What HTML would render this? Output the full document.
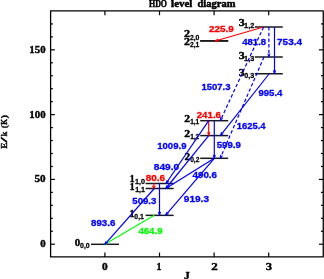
<!DOCTYPE html>
<html><head><meta charset="utf-8"><title>HDO level diagram</title>
<style>html,body{margin:0;padding:0;background:#fff;overflow:hidden}svg{display:block;will-change:transform;opacity:0.999}</style>
</head><body>
<svg width="324" height="279" viewBox="0 0 324 279" stroke-linejoin="round">
<rect width="324" height="279" fill="#fff"/>
<rect x="50.6" y="10.9" width="272.65" height="245.99999999999997" fill="none" stroke="#000" stroke-width="1.3"/>
<line x1="50.60" y1="244.20" x2="54.90" y2="244.20" stroke="#000" stroke-width="1.2"/>
<line x1="323.25" y1="244.20" x2="318.95" y2="244.20" stroke="#000" stroke-width="1.2"/>
<line x1="50.60" y1="231.24" x2="52.90" y2="231.24" stroke="#000" stroke-width="1.2"/>
<line x1="323.25" y1="231.24" x2="320.95" y2="231.24" stroke="#000" stroke-width="1.2"/>
<line x1="50.60" y1="218.29" x2="52.90" y2="218.29" stroke="#000" stroke-width="1.2"/>
<line x1="323.25" y1="218.29" x2="320.95" y2="218.29" stroke="#000" stroke-width="1.2"/>
<line x1="50.60" y1="205.33" x2="52.90" y2="205.33" stroke="#000" stroke-width="1.2"/>
<line x1="323.25" y1="205.33" x2="320.95" y2="205.33" stroke="#000" stroke-width="1.2"/>
<line x1="50.60" y1="192.37" x2="52.90" y2="192.37" stroke="#000" stroke-width="1.2"/>
<line x1="323.25" y1="192.37" x2="320.95" y2="192.37" stroke="#000" stroke-width="1.2"/>
<line x1="50.60" y1="179.41" x2="54.90" y2="179.41" stroke="#000" stroke-width="1.2"/>
<line x1="323.25" y1="179.41" x2="318.95" y2="179.41" stroke="#000" stroke-width="1.2"/>
<line x1="50.60" y1="166.46" x2="52.90" y2="166.46" stroke="#000" stroke-width="1.2"/>
<line x1="323.25" y1="166.46" x2="320.95" y2="166.46" stroke="#000" stroke-width="1.2"/>
<line x1="50.60" y1="153.50" x2="52.90" y2="153.50" stroke="#000" stroke-width="1.2"/>
<line x1="323.25" y1="153.50" x2="320.95" y2="153.50" stroke="#000" stroke-width="1.2"/>
<line x1="50.60" y1="140.54" x2="52.90" y2="140.54" stroke="#000" stroke-width="1.2"/>
<line x1="323.25" y1="140.54" x2="320.95" y2="140.54" stroke="#000" stroke-width="1.2"/>
<line x1="50.60" y1="127.59" x2="52.90" y2="127.59" stroke="#000" stroke-width="1.2"/>
<line x1="323.25" y1="127.59" x2="320.95" y2="127.59" stroke="#000" stroke-width="1.2"/>
<line x1="50.60" y1="114.63" x2="54.90" y2="114.63" stroke="#000" stroke-width="1.2"/>
<line x1="323.25" y1="114.63" x2="318.95" y2="114.63" stroke="#000" stroke-width="1.2"/>
<line x1="50.60" y1="101.67" x2="52.90" y2="101.67" stroke="#000" stroke-width="1.2"/>
<line x1="323.25" y1="101.67" x2="320.95" y2="101.67" stroke="#000" stroke-width="1.2"/>
<line x1="50.60" y1="88.72" x2="52.90" y2="88.72" stroke="#000" stroke-width="1.2"/>
<line x1="323.25" y1="88.72" x2="320.95" y2="88.72" stroke="#000" stroke-width="1.2"/>
<line x1="50.60" y1="75.76" x2="52.90" y2="75.76" stroke="#000" stroke-width="1.2"/>
<line x1="323.25" y1="75.76" x2="320.95" y2="75.76" stroke="#000" stroke-width="1.2"/>
<line x1="50.60" y1="62.80" x2="52.90" y2="62.80" stroke="#000" stroke-width="1.2"/>
<line x1="323.25" y1="62.80" x2="320.95" y2="62.80" stroke="#000" stroke-width="1.2"/>
<line x1="50.60" y1="49.84" x2="54.90" y2="49.84" stroke="#000" stroke-width="1.2"/>
<line x1="323.25" y1="49.84" x2="318.95" y2="49.84" stroke="#000" stroke-width="1.2"/>
<line x1="50.60" y1="36.89" x2="52.90" y2="36.89" stroke="#000" stroke-width="1.2"/>
<line x1="323.25" y1="36.89" x2="320.95" y2="36.89" stroke="#000" stroke-width="1.2"/>
<line x1="50.60" y1="23.93" x2="52.90" y2="23.93" stroke="#000" stroke-width="1.2"/>
<line x1="323.25" y1="23.93" x2="320.95" y2="23.93" stroke="#000" stroke-width="1.2"/>
<line x1="104.90" y1="10.90" x2="104.90" y2="15.20" stroke="#000" stroke-width="1.2"/>
<line x1="104.90" y1="256.90" x2="104.90" y2="252.60" stroke="#000" stroke-width="1.2"/>
<line x1="159.50" y1="10.90" x2="159.50" y2="15.20" stroke="#000" stroke-width="1.2"/>
<line x1="159.50" y1="256.90" x2="159.50" y2="252.60" stroke="#000" stroke-width="1.2"/>
<line x1="214.10" y1="10.90" x2="214.10" y2="15.20" stroke="#000" stroke-width="1.2"/>
<line x1="214.10" y1="256.90" x2="214.10" y2="252.60" stroke="#000" stroke-width="1.2"/>
<line x1="268.70" y1="10.90" x2="268.70" y2="15.20" stroke="#000" stroke-width="1.2"/>
<line x1="268.70" y1="256.90" x2="268.70" y2="252.60" stroke="#000" stroke-width="1.2"/>
<line x1="91.00" y1="244.30" x2="119.00" y2="244.30" stroke="#1a1a1a" stroke-width="1.5"/>
<line x1="145.60" y1="215.35" x2="173.60" y2="215.35" stroke="#1a1a1a" stroke-width="1.5"/>
<line x1="145.60" y1="188.50" x2="173.60" y2="188.50" stroke="#1a1a1a" stroke-width="1.5"/>
<line x1="145.60" y1="183.50" x2="173.60" y2="183.50" stroke="#1a1a1a" stroke-width="1.5"/>
<line x1="200.20" y1="158.30" x2="228.20" y2="158.30" stroke="#1a1a1a" stroke-width="1.5"/>
<line x1="200.20" y1="135.60" x2="228.20" y2="135.60" stroke="#1a1a1a" stroke-width="1.5"/>
<line x1="200.20" y1="120.70" x2="228.20" y2="120.70" stroke="#1a1a1a" stroke-width="1.5"/>
<line x1="200.20" y1="41.00" x2="228.20" y2="41.00" stroke="#1a1a1a" stroke-width="1.5"/>
<line x1="200.20" y1="40.80" x2="228.20" y2="40.80" stroke="#1a1a1a" stroke-width="1.5"/>
<line x1="254.80" y1="73.75" x2="282.80" y2="73.75" stroke="#1a1a1a" stroke-width="1.5"/>
<line x1="254.80" y1="57.00" x2="282.80" y2="57.00" stroke="#1a1a1a" stroke-width="1.5"/>
<line x1="254.80" y1="27.00" x2="282.80" y2="27.00" stroke="#1a1a1a" stroke-width="1.5"/>
<text transform="translate(29.35,52.70) scale(1.0638,1)" font-family="Liberation Serif" font-weight="bold" font-size="10.2" fill="#000" stroke="#000" stroke-width="0.38">150</text>
<text transform="translate(29.35,117.50) scale(1.0638,1)" font-family="Liberation Serif" font-weight="bold" font-size="10.2" fill="#000" stroke="#000" stroke-width="0.38">100</text>
<text transform="translate(34.46,182.20) scale(1.0957,1)" font-family="Liberation Serif" font-weight="bold" font-size="10.2" fill="#000" stroke="#000" stroke-width="0.38">50</text>
<text transform="translate(40.17,247.00) scale(1.0698,1)" font-family="Liberation Serif" font-weight="bold" font-size="10.2" fill="#000" stroke="#000" stroke-width="0.38">0</text>
<text transform="translate(101.95,269.70) scale(1.1163,1)" font-family="Liberation Serif" font-weight="bold" font-size="10.2" fill="#000" stroke="#000" stroke-width="0.38">0</text>
<text transform="translate(156.62,269.70) scale(0.9737,1)" font-family="Liberation Serif" font-weight="bold" font-size="10.2" fill="#000" stroke="#000" stroke-width="0.38">1</text>
<text transform="translate(211.19,269.70) scale(1.2791,1)" font-family="Liberation Serif" font-weight="bold" font-size="10.2" fill="#000" stroke="#000" stroke-width="0.38">2</text>
<text transform="translate(265.71,269.70) scale(1.2326,1)" font-family="Liberation Serif" font-weight="bold" font-size="10.2" fill="#000" stroke="#000" stroke-width="0.38">3</text>
<text transform="translate(184.03,278.60) scale(1.1395,1)" font-family="Liberation Serif" font-weight="bold" font-size="10.2" fill="#000" stroke="#000" stroke-width="0.38">J</text>
<text transform="translate(148.95,6.60) scale(0.7364,1)" font-family="Liberation Serif" font-weight="bold" font-size="10.8" fill="#000" stroke="#000" stroke-width="0.5">HDO</text>
<text transform="translate(171.10,6.60) scale(1.0146,1)" font-family="Liberation Serif" font-weight="bold" font-size="10.8" fill="#000" stroke="#000" stroke-width="0.5">level</text>
<text transform="translate(197.41,6.60) scale(0.9766,1)" font-family="Liberation Serif" font-weight="bold" font-size="10.8" fill="#000" stroke="#000" stroke-width="0.5">diagram</text>
<text transform="translate(74.75,245.70) scale(1.1220,1)" font-family="Liberation Serif" font-weight="bold" font-size="9.7" fill="#000" stroke="#000" stroke-width="0.38">0</text>
<text transform="translate(80.02,247.90) scale(0.9286,1)" font-family="Liberation Sans" font-weight="bold" font-size="7.5" fill="#000" stroke="#000" stroke-width="0.28">0,0</text>
<text transform="translate(129.48,217.00) scale(1.0286,1)" font-family="Liberation Serif" font-weight="bold" font-size="9.7" fill="#000" stroke="#000" stroke-width="0.38">1</text>
<text transform="translate(134.32,219.20) scale(0.9192,1)" font-family="Liberation Sans" font-weight="bold" font-size="7.5" fill="#000" stroke="#000" stroke-width="0.28">0,1</text>
<text transform="translate(129.70,190.10) scale(1.0000,1)" font-family="Liberation Serif" font-weight="bold" font-size="9.7" fill="#000" stroke="#000" stroke-width="0.38">1</text>
<text transform="translate(135.13,192.40) scale(0.9485,1)" font-family="Liberation Sans" font-weight="bold" font-size="7.5" fill="#000" stroke="#000" stroke-width="0.28">1,1</text>
<text transform="translate(129.70,182.10) scale(1.0000,1)" font-family="Liberation Serif" font-weight="bold" font-size="9.7" fill="#000" stroke="#000" stroke-width="0.38">1</text>
<text transform="translate(135.12,184.30) scale(0.9583,1)" font-family="Liberation Sans" font-weight="bold" font-size="7.5" fill="#000" stroke="#000" stroke-width="0.28">1,0</text>
<text transform="translate(184.53,159.70) scale(1.1750,1)" font-family="Liberation Serif" font-weight="bold" font-size="9.7" fill="#000" stroke="#000" stroke-width="0.38">2</text>
<text transform="translate(190.13,161.80) scale(0.8878,1)" font-family="Liberation Sans" font-weight="bold" font-size="7.5" fill="#000" stroke="#000" stroke-width="0.28">0,2</text>
<text transform="translate(184.32,136.80) scale(1.2000,1)" font-family="Liberation Serif" font-weight="bold" font-size="9.7" fill="#000" stroke="#000" stroke-width="0.38">2</text>
<text transform="translate(190.16,138.90) scale(0.8750,1)" font-family="Liberation Sans" font-weight="bold" font-size="7.5" fill="#000" stroke="#000" stroke-width="0.28">1,2</text>
<text transform="translate(184.32,122.00) scale(1.2000,1)" font-family="Liberation Serif" font-weight="bold" font-size="9.7" fill="#000" stroke="#000" stroke-width="0.38">2</text>
<text transform="translate(190.17,124.00) scale(0.8660,1)" font-family="Liberation Sans" font-weight="bold" font-size="7.5" fill="#000" stroke="#000" stroke-width="0.28">1,1</text>
<text transform="translate(184.10,44.70) scale(1.2500,1)" font-family="Liberation Serif" font-weight="bold" font-size="9.7" fill="#000" stroke="#000" stroke-width="0.38">2</text>
<text transform="translate(189.93,47.10) scale(0.8990,1)" font-family="Liberation Sans" font-weight="bold" font-size="7.5" fill="#000" stroke="#000" stroke-width="0.28">2,1</text>
<text transform="translate(184.10,37.20) scale(1.2500,1)" font-family="Liberation Serif" font-weight="bold" font-size="9.7" fill="#000" stroke="#000" stroke-width="0.38">2</text>
<text transform="translate(189.93,39.70) scale(0.9082,1)" font-family="Liberation Sans" font-weight="bold" font-size="7.5" fill="#000" stroke="#000" stroke-width="0.28">2,0</text>
<text transform="translate(238.71,75.60) scale(1.2195,1)" font-family="Liberation Serif" font-weight="bold" font-size="9.7" fill="#000" stroke="#000" stroke-width="0.38">3</text>
<text transform="translate(244.31,77.60) scale(0.9592,1)" font-family="Liberation Sans" font-weight="bold" font-size="7.5" fill="#000" stroke="#000" stroke-width="0.28">0,3</text>
<text transform="translate(238.71,58.90) scale(1.2195,1)" font-family="Liberation Serif" font-weight="bold" font-size="9.7" fill="#000" stroke="#000" stroke-width="0.38">3</text>
<text transform="translate(244.11,60.70) scale(0.9792,1)" font-family="Liberation Sans" font-weight="bold" font-size="7.5" fill="#000" stroke="#000" stroke-width="0.28">1,3</text>
<text transform="translate(238.71,25.60) scale(1.2195,1)" font-family="Liberation Serif" font-weight="bold" font-size="9.7" fill="#000" stroke="#000" stroke-width="0.38">3</text>
<text transform="translate(244.11,27.80) scale(0.9792,1)" font-family="Liberation Sans" font-weight="bold" font-size="7.5" fill="#000" stroke="#000" stroke-width="0.28">1,2</text>
<line x1="263.60" y1="27.00" x2="215.20" y2="41.00" stroke="#ff0000" stroke-width="1.2"/>
<line x1="215.20" y1="41.00" x2="218.21" y2="39.03" stroke="#ff0000" stroke-width="1.02"/>
<line x1="215.20" y1="41.00" x2="218.80" y2="41.05" stroke="#ff0000" stroke-width="1.02"/>
<line x1="268.90" y1="27.00" x2="268.90" y2="57.00" stroke="#0000ff" stroke-width="1.2" stroke-dasharray="3.5 2.2"/>
<line x1="268.90" y1="57.00" x2="267.85" y2="53.56" stroke="#0000ff" stroke-width="1.02"/>
<line x1="268.90" y1="57.00" x2="269.95" y2="53.56" stroke="#0000ff" stroke-width="1.02"/>
<line x1="274.50" y1="27.00" x2="274.50" y2="73.75" stroke="#0000ff" stroke-width="1.2"/>
<line x1="274.50" y1="73.75" x2="273.45" y2="70.31" stroke="#0000ff" stroke-width="1.02"/>
<line x1="274.50" y1="73.75" x2="275.55" y2="70.31" stroke="#0000ff" stroke-width="1.02"/>
<line x1="263.60" y1="27.00" x2="220.30" y2="120.70" stroke="#0000ff" stroke-width="1.2" stroke-dasharray="3.5 2.2"/>
<line x1="220.30" y1="120.70" x2="220.79" y2="117.13" stroke="#0000ff" stroke-width="1.02"/>
<line x1="220.30" y1="120.70" x2="222.70" y2="118.02" stroke="#0000ff" stroke-width="1.02"/>
<line x1="264.00" y1="57.00" x2="220.20" y2="158.30" stroke="#0000ff" stroke-width="1.2" stroke-dasharray="3.5 2.2"/>
<line x1="220.20" y1="158.30" x2="220.60" y2="154.72" stroke="#0000ff" stroke-width="1.02"/>
<line x1="220.20" y1="158.30" x2="222.53" y2="155.56" stroke="#0000ff" stroke-width="1.02"/>
<line x1="269.20" y1="73.75" x2="220.30" y2="135.60" stroke="#0000ff" stroke-width="1.2"/>
<line x1="220.30" y1="135.60" x2="221.61" y2="132.25" stroke="#0000ff" stroke-width="1.02"/>
<line x1="220.30" y1="135.60" x2="223.26" y2="133.55" stroke="#0000ff" stroke-width="1.02"/>
<line x1="208.70" y1="120.70" x2="208.70" y2="135.60" stroke="#ff0000" stroke-width="1.2"/>
<line x1="208.70" y1="135.60" x2="207.65" y2="132.16" stroke="#ff0000" stroke-width="1.02"/>
<line x1="208.70" y1="135.60" x2="209.75" y2="132.16" stroke="#ff0000" stroke-width="1.02"/>
<line x1="214.30" y1="120.70" x2="214.30" y2="158.30" stroke="#0000ff" stroke-width="1.2"/>
<line x1="214.30" y1="158.30" x2="213.25" y2="154.86" stroke="#0000ff" stroke-width="1.02"/>
<line x1="214.30" y1="158.30" x2="215.35" y2="154.86" stroke="#0000ff" stroke-width="1.02"/>
<line x1="208.70" y1="120.70" x2="166.00" y2="183.50" stroke="#0000ff" stroke-width="1.2"/>
<line x1="166.00" y1="183.50" x2="167.07" y2="180.06" stroke="#0000ff" stroke-width="1.02"/>
<line x1="166.00" y1="183.50" x2="168.81" y2="181.24" stroke="#0000ff" stroke-width="1.02"/>
<line x1="208.70" y1="135.60" x2="165.80" y2="188.50" stroke="#0000ff" stroke-width="1.2"/>
<line x1="165.80" y1="188.50" x2="167.15" y2="185.16" stroke="#0000ff" stroke-width="1.02"/>
<line x1="165.80" y1="188.50" x2="168.79" y2="186.49" stroke="#0000ff" stroke-width="1.02"/>
<line x1="214.30" y1="158.30" x2="165.80" y2="188.50" stroke="#0000ff" stroke-width="1.2"/>
<line x1="165.80" y1="188.50" x2="168.17" y2="185.79" stroke="#0000ff" stroke-width="1.02"/>
<line x1="165.80" y1="188.50" x2="169.28" y2="187.57" stroke="#0000ff" stroke-width="1.02"/>
<line x1="214.30" y1="158.30" x2="165.50" y2="215.35" stroke="#0000ff" stroke-width="1.2"/>
<line x1="165.50" y1="215.35" x2="166.94" y2="212.05" stroke="#0000ff" stroke-width="1.02"/>
<line x1="165.50" y1="215.35" x2="168.54" y2="213.42" stroke="#0000ff" stroke-width="1.02"/>
<line x1="153.90" y1="183.50" x2="153.90" y2="188.50" stroke="#ff0000" stroke-width="1.2"/>
<line x1="153.90" y1="188.50" x2="152.45" y2="185.65" stroke="#ff0000" stroke-width="1.02"/>
<line x1="153.90" y1="188.50" x2="155.35" y2="185.65" stroke="#ff0000" stroke-width="1.02"/>
<line x1="159.50" y1="183.50" x2="159.50" y2="215.35" stroke="#0000ff" stroke-width="1.2"/>
<line x1="159.50" y1="215.35" x2="158.45" y2="211.91" stroke="#0000ff" stroke-width="1.02"/>
<line x1="159.50" y1="215.35" x2="160.55" y2="211.91" stroke="#0000ff" stroke-width="1.02"/>
<line x1="154.40" y1="215.35" x2="104.80" y2="244.30" stroke="#00ff00" stroke-width="1.2"/>
<line x1="104.80" y1="244.30" x2="106.70" y2="242.24" stroke="#00ff00" stroke-width="1.02"/>
<line x1="104.80" y1="244.30" x2="107.53" y2="243.66" stroke="#00ff00" stroke-width="1.02"/>
<line x1="154.30" y1="188.50" x2="104.80" y2="244.30" stroke="#0000ff" stroke-width="1.2"/>
<line x1="104.80" y1="244.30" x2="106.17" y2="241.30" stroke="#0000ff" stroke-width="1.02"/>
<line x1="104.80" y1="244.30" x2="107.62" y2="242.58" stroke="#0000ff" stroke-width="1.02"/>
<text transform="translate(208.99,31.60) scale(1.0256,1)" font-family="Liberation Sans" font-weight="bold" font-size="9.6" fill="#ff0000" stroke="#ff0000" stroke-width="0.3">225.9</text>
<text transform="translate(242.20,44.70) scale(1.0000,1)" font-family="Liberation Sans" font-weight="bold" font-size="9.6" fill="#0000ff" stroke="#0000ff" stroke-width="0.3">481.8</text>
<text transform="translate(277.08,44.80) scale(1.0381,1)" font-family="Liberation Sans" font-weight="bold" font-size="9.6" fill="#0000ff" stroke="#0000ff" stroke-width="0.3">753.4</text>
<text transform="translate(201.40,90.00) scale(0.9930,1)" font-family="Liberation Sans" font-weight="bold" font-size="9.6" fill="#0000ff" stroke="#0000ff" stroke-width="0.3">1507.3</text>
<text transform="translate(258.40,95.70) scale(1.0000,1)" font-family="Liberation Sans" font-weight="bold" font-size="9.6" fill="#0000ff" stroke="#0000ff" stroke-width="0.3">995.4</text>
<text transform="translate(196.70,118.00) scale(1.0128,1)" font-family="Liberation Sans" font-weight="bold" font-size="9.6" fill="#ff0000" stroke="#ff0000" stroke-width="0.3">241.6</text>
<text transform="translate(236.81,129.30) scale(0.9826,1)" font-family="Liberation Sans" font-weight="bold" font-size="9.6" fill="#0000ff" stroke="#0000ff" stroke-width="0.3">1625.4</text>
<text transform="translate(157.20,148.90) scale(0.9965,1)" font-family="Liberation Sans" font-weight="bold" font-size="9.6" fill="#0000ff" stroke="#0000ff" stroke-width="0.3">1009.9</text>
<text transform="translate(216.70,148.40) scale(1.0085,1)" font-family="Liberation Sans" font-weight="bold" font-size="9.6" fill="#0000ff" stroke="#0000ff" stroke-width="0.3">599.9</text>
<text transform="translate(153.78,170.20) scale(1.0558,1)" font-family="Liberation Sans" font-weight="bold" font-size="9.6" fill="#0000ff" stroke="#0000ff" stroke-width="0.3">849.0</text>
<text transform="translate(145.69,180.60) scale(1.0389,1)" font-family="Liberation Sans" font-weight="bold" font-size="9.6" fill="#ff0000" stroke="#ff0000" stroke-width="0.3">80.6</text>
<text transform="translate(192.50,178.10) scale(1.0212,1)" font-family="Liberation Sans" font-weight="bold" font-size="9.6" fill="#0000ff" stroke="#0000ff" stroke-width="0.3">490.6</text>
<text transform="translate(132.30,203.90) scale(1.0043,1)" font-family="Liberation Sans" font-weight="bold" font-size="9.6" fill="#0000ff" stroke="#0000ff" stroke-width="0.3">509.3</text>
<text transform="translate(183.78,201.70) scale(1.0513,1)" font-family="Liberation Sans" font-weight="bold" font-size="9.6" fill="#0000ff" stroke="#0000ff" stroke-width="0.3">919.3</text>
<text transform="translate(91.00,225.70) scale(1.0128,1)" font-family="Liberation Sans" font-weight="bold" font-size="9.6" fill="#0000ff" stroke="#0000ff" stroke-width="0.3">893.6</text>
<text transform="translate(138.40,233.90) scale(1.0042,1)" font-family="Liberation Sans" font-weight="bold" font-size="9.6" fill="#00ff00" stroke="#00ff00" stroke-width="0.3">464.9</text>
<text transform="translate(7.30,148.80) rotate(-90) scale(0.9818,1)" font-family="Liberation Serif" font-weight="bold" font-size="9.2" fill="#000" stroke="#000" stroke-width="0.4">E</text>
<text transform="translate(7.30,142.39) rotate(-90) scale(2.0741,1)" font-family="Liberation Serif" font-weight="bold" font-size="9.2" fill="#000" stroke="#000" stroke-width="0.4">/</text>
<text transform="translate(7.30,136.59) rotate(-90) scale(0.9592,1)" font-family="Liberation Serif" font-weight="bold" font-size="9.2" fill="#000" stroke="#000" stroke-width="0.4">k</text>
<text transform="translate(7.30,128.20) rotate(-90) scale(1.0000,1)" font-family="Liberation Serif" font-weight="bold" font-size="9.2" fill="#000" stroke="#000" stroke-width="0.4">(</text>
<text transform="translate(7.30,124.76) rotate(-90) scale(0.7971,1)" font-family="Liberation Serif" font-weight="bold" font-size="9.2" fill="#000" stroke="#000" stroke-width="0.4">K</text>
<text transform="translate(7.30,118.31) rotate(-90) scale(1.0417,1)" font-family="Liberation Serif" font-weight="bold" font-size="9.2" fill="#000" stroke="#000" stroke-width="0.4">)</text>
</svg>
</body></html>
